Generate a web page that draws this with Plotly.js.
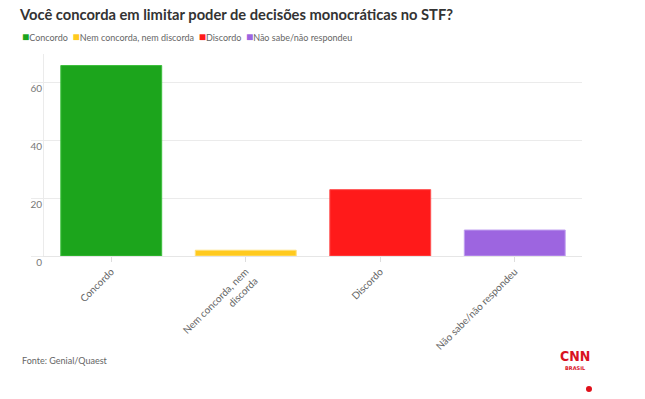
<!DOCTYPE html>
<html>
<head>
<meta charset="utf-8">
<script src="https://cdn.plot.ly/plotly-3.0.1.min.js"></script>
<style>html,body{margin:0;padding:0;background:#fff;}#chart{width:645px;height:399px;}</style>
</head>
<body>
<div id="chart"></div>
<script>
var categories = ["Concordo", "Nem concorda, nem discorda", "Discordo", "Não sabe/não respondeu"];
var tickLabels = ["Concordo", "Nem concorda, nem<br>discorda", "Discordo", "Não sabe/não respondeu"];
var values = [66, 2, 23, 9];
var colors = ["#1ca51c", "#ffca1f", "#ff1a1a", "#9d65e0"];
var borderColors = ["#3cbf3c", "#ffe07a", "#ff5050", "#c0a0f0"];
var yTicks = [0, 20, 40, 60];

var font = "Lato, 'Source Sans Pro', 'Open Sans', sans-serif";

var trace = {
  type: "bar",
  x: categories,
  y: values,
  marker: {color: colors, line: {color: borderColors, width: 1}},
  hoverinfo: "x+y",
  showlegend: false
};

var legendText = categories.map(function(c, i){
  return '<span style="color:' + colors[i] + ';font-size:12px">■</span>' + c;
}).join('  ');

var layout = {
  width: 645, height: 399,
  margin: {l: 44, r: 63, t: 54, b: 143},
  paper_bgcolor: "#fff", plot_bgcolor: "#fff",
  font: {family: font, color: "#666", size: 10},
  bargap: 0.25,
  title: {text: "<b>Você concorda em limitar poder de decisões monocráticas no STF?</b>",
          x: 0.031, xanchor: "left", y: 0.963, yanchor: "middle",
          font: {family: font, size: 14.7, color: "#333"}},
  xaxis: {
    tickvals: categories, ticktext: tickLabels,
    tickangle: -45, ticks: "outside", ticklen: 5, tickcolor: "#ddd",
    showline: true, linecolor: "#e6e6e6", linewidth: 1,
    tickfont: {size: 10, color: "#666"}, showgrid: false, zeroline: false
  },
  yaxis: {
    range: [0, 70], tickvals: yTicks,
    showgrid: true, gridcolor: "#ebebeb", zeroline: true, zerolinecolor: "#e6e6e6",
    showline: true, linecolor: "#ebebeb",
    ticks: "outside", ticklen: 12, tickcolor: "#ebebeb",
    ticklabelstandoff: -13, ticklabelshift: 6,
    tickfont: {size: 10, color: "#777"}
  },
  annotations: [
    {xref: "paper", yref: "paper", x: -0.0446, y: 1.089, xanchor: "left", yanchor: "middle",
     text: legendText, showarrow: false, font: {family: font, size: 9, color: "#666"}},
    {xref: "paper", yref: "paper", x: -0.0446, y: -0.515, xanchor: "left", yanchor: "middle",
     text: "Fonte: Genial/Quaest", showarrow: false, font: {family: font, size: 9, color: "#666"}},
    {xref: "paper", yref: "paper", x: 0.987, y: -0.495, xanchor: "center", yanchor: "middle",
     text: "<b>CNN</b>", showarrow: false, font: {family: "'DejaVu Sans Condensed', 'Liberation Sans Narrow', sans-serif", size: 14, color: "#d9131f"}},
    {xref: "paper", yref: "paper", x: 0.987, y: -0.552, xanchor: "center", yanchor: "middle",
     text: "<b>BRASIL</b>", showarrow: false, font: {family: "'DejaVu Sans', sans-serif", size: 5, color: "#d9131f"}}
  ],
  shapes: [
    {type: "circle", xref: "paper", yref: "paper", x0: 1.0074, x1: 1.0186, y0: -0.673, y1: -0.643,
     fillcolor: "#e0101a", line: {width: 0}}
  ]
};

Plotly.newPlot("chart", [trace], layout, {displayModeBar: false, staticPlot: true});
</script>
</body>
</html>
